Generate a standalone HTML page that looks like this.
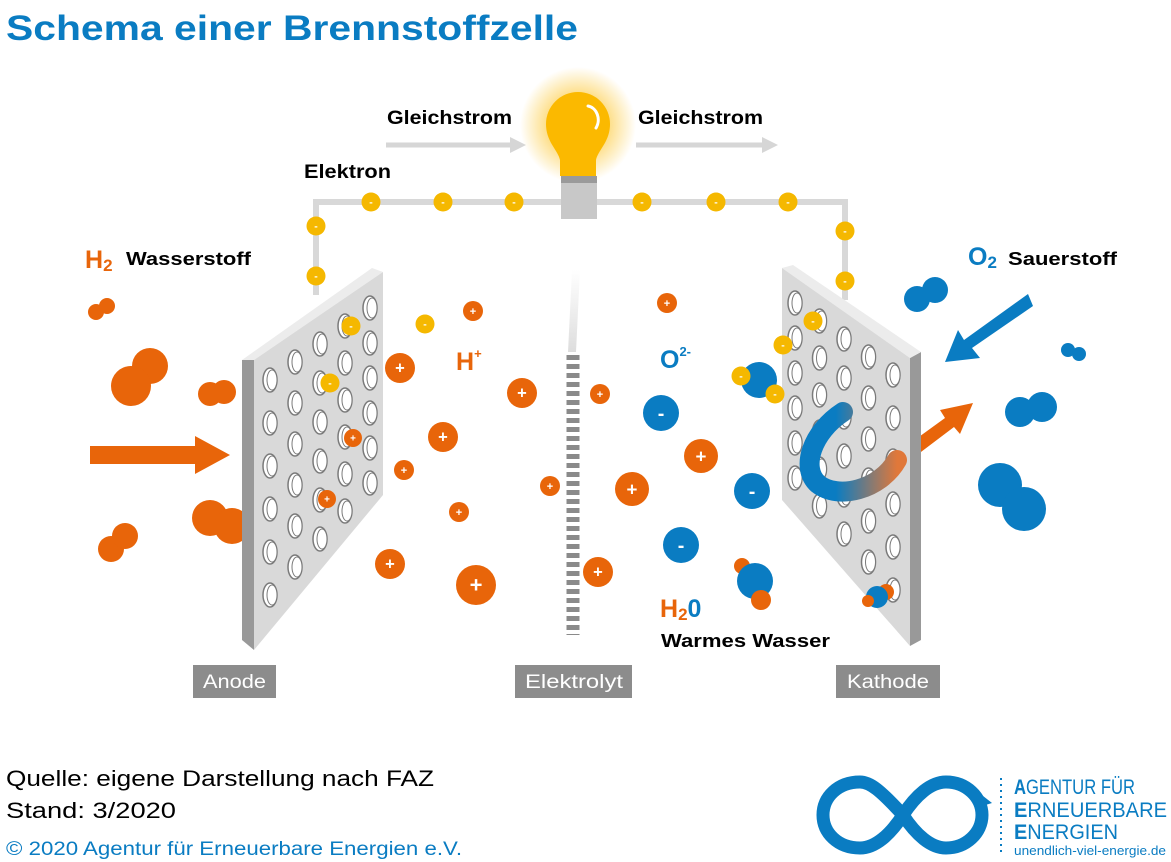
<!DOCTYPE html>
<html><head><meta charset="utf-8"><style>
html,body{margin:0;padding:0;background:#fff;}
svg{display:block;font-family:"Liberation Sans","DejaVu Sans",sans-serif;}
</style></head><body>
<svg width="1171" height="862" viewBox="0 0 1171 862" xmlns="http://www.w3.org/2000/svg">
<defs>
<radialGradient id="glow" cx="0.5" cy="0.5" r="0.5">
<stop offset="0.5" stop-color="#fbb900" stop-opacity="0.5"/>
<stop offset="1" stop-color="#fbb900" stop-opacity="0"/>
</radialGradient>
<linearGradient id="hook" x1="0" y1="0" x2="1" y2="0" gradientUnits="objectBoundingBox">
<stop offset="0.3" stop-color="#0a7cc2"/>
<stop offset="1" stop-color="#e0783a"/>
</linearGradient>
<linearGradient id="fade" x1="0" y1="0" x2="0" y2="1">
<stop offset="0" stop-color="#fff"/>
<stop offset="1" stop-color="#ddd"/>
</linearGradient>
</defs>
<rect width="1171" height="862" fill="#fff"/>
<text x="6" y="40" font-size="35" font-weight="bold" fill="#0a7cc2" textLength="572" lengthAdjust="spacingAndGlyphs">Schema einer Brennstoffzelle</text>

<text x="387" y="124" font-size="19" font-weight="bold" textLength="125" lengthAdjust="spacingAndGlyphs">Gleichstrom</text>
<text x="638" y="124" font-size="19" font-weight="bold" textLength="125" lengthAdjust="spacingAndGlyphs">Gleichstrom</text>
<line x1="386" y1="145" x2="512" y2="145" stroke="#d6d6d6" stroke-width="5"/>
<polygon points="510,137 526,145 510,153" fill="#d6d6d6"/>
<line x1="636" y1="145" x2="764" y2="145" stroke="#d6d6d6" stroke-width="5"/>
<polygon points="762,137 778,145 762,153" fill="#d6d6d6"/>
<text x="304" y="178" font-size="19" font-weight="bold" textLength="87" lengthAdjust="spacingAndGlyphs">Elektron</text>

<polyline points="316,295 316,202 845,202 845,300" fill="none" stroke="#d8d8d8" stroke-width="6"/>

<circle cx="578" cy="125" r="58" fill="url(#glow)"/>
<path d="M546,124 a32,32 0 1 1 64,0 c0,18 -12,26 -14,36 l0,16 h-36 l0,-16 c-2,-10 -14,-18 -14,-36z" fill="#fbb900"/>
<path d="M588,106 a12,14 0 0 1 8,22" fill="none" stroke="#fff" stroke-width="3" stroke-linecap="round"/>
<rect x="561" y="176" width="36" height="7" fill="#9a9a9a"/>
<rect x="561" y="183" width="36" height="36" fill="#c8c8c8"/>

<polygon points="572,270 580,270 576,352 568,352" fill="url(#fade)"/>
<line x1="573" y1="355" x2="573" y2="635" stroke="#8a8a8a" stroke-width="13" stroke-dasharray="5,4"/>

<text x="85" y="268" font-size="25" font-weight="bold" fill="#e8650a">H<tspan font-size="17" dy="3">2</tspan></text>
<text x="126" y="265" font-size="18" font-weight="bold" textLength="125" lengthAdjust="spacingAndGlyphs">Wasserstoff</text>
<text x="968" y="265" font-size="25" font-weight="bold" fill="#0a7cc2">O<tspan font-size="17" dy="3">2</tspan></text>
<text x="1008" y="265" font-size="18" font-weight="bold" textLength="109" lengthAdjust="spacingAndGlyphs">Sauerstoff</text>
<text x="456" y="370" font-size="25" font-weight="bold" fill="#e8650a">H<tspan font-size="13" dy="-12">+</tspan></text>
<text x="660" y="368" font-size="25" font-weight="bold" fill="#0a7cc2">O<tspan font-size="13" dy="-12">2-</tspan></text>
<text x="660" y="617" font-size="25" font-weight="bold" fill="#e8650a">H<tspan font-size="17" dy="3">2</tspan><tspan dy="-3" fill="#0a7cc2">0</tspan></text>
<text x="661" y="647" font-size="18" font-weight="bold" textLength="169" lengthAdjust="spacingAndGlyphs">Warmes Wasser</text>

<g fill="#e8650a">
<circle cx="96" cy="312" r="8"/><circle cx="107" cy="306" r="8"/>
<circle cx="150" cy="366" r="18"/><circle cx="131" cy="386" r="20"/>
<circle cx="210" cy="394" r="12"/><circle cx="224" cy="392" r="12"/>
<circle cx="210" cy="518" r="18"/><circle cx="232" cy="526" r="18"/>
<circle cx="111" cy="549" r="13"/><circle cx="125" cy="536" r="13"/>
<polygon points="90,446 195,446 195,436 230,455 195,474 195,464 90,464"/>
<polygon points="905,447 945,418 940,410 973,403 960,434 954,427 913,458"/>
</g>
<g fill="#0a7cc2">
<circle cx="917" cy="299" r="13"/><circle cx="935" cy="290" r="13"/>
<circle cx="1068" cy="350" r="7"/><circle cx="1079" cy="354" r="7"/>
<circle cx="1020" cy="412" r="15"/><circle cx="1042" cy="407" r="15"/>
<circle cx="1000" cy="485" r="22"/><circle cx="1024" cy="509" r="22"/>
<polygon points="1028,294 1033,306 972,348 980,358 945,362 958,330 964,340"/>
</g>

<polygon points="242,360 254,360 254,650 242,640" fill="#999"/>
<polygon points="242,360 372,268 383,272 254,360" fill="#ececec"/>
<polygon points="254,360 383,272 383,495 254,650" fill="#d9d9d9"/>
<g fill="#fff" stroke="#7a7a7a" stroke-width="1.5" id="ah"></g>

<polygon points="910,358 921,352 921,640 910,646" fill="#999"/>
<polygon points="782,268 793,265 921,352 910,358" fill="#ececec"/>
<polygon points="782,268 910,358 910,646 782,500" fill="#d9d9d9"/>
<g fill="#fff" stroke="#7a7a7a" stroke-width="1.5" id="ch"></g>

<path d="M843,412 C812,432 800,468 818,484 C838,500 880,490 897,460" fill="none" stroke="url(#hook)" stroke-width="20" stroke-linecap="round"/>

<g id="ions"></g>

<rect x="193" y="665" width="83" height="33" fill="#8c8c8c"/>
<text x="203" y="688" font-size="19" fill="#fff" textLength="63" lengthAdjust="spacingAndGlyphs">Anode</text>
<rect x="515" y="665" width="117" height="33" fill="#8c8c8c"/>
<text x="525" y="688" font-size="19" fill="#fff" textLength="98" lengthAdjust="spacingAndGlyphs">Elektrolyt</text>
<rect x="836" y="665" width="104" height="33" fill="#8c8c8c"/>
<text x="847" y="688" font-size="19" fill="#fff" textLength="82" lengthAdjust="spacingAndGlyphs">Kathode</text>

<text x="6" y="786" font-size="22" textLength="428" lengthAdjust="spacingAndGlyphs">Quelle: eigene Darstellung nach FAZ</text>
<text x="6" y="818" font-size="22" textLength="170" lengthAdjust="spacingAndGlyphs">Stand: 3/2020</text>
<text x="6" y="855" font-size="19" fill="#0a7cc2" textLength="456" lengthAdjust="spacingAndGlyphs">© 2020 Agentur für Erneuerbare Energien e.V.</text>

<path d="M903,815 C880,790 870,782 860,782 C838,782 823,797 823,815 C823,833 838,848 860,848 C875,848 890,835 903,815 C916,795 931,782 946,782 C966,782 982,797 982,815 C982,833 966,848 946,848 C931,848 916,835 903,815" fill="none" stroke="#0a7cc2" stroke-width="13"/>
<polygon points="978,792 992,803 976,808" fill="#0a7cc2"/>
<line x1="1001" y1="778" x2="1001" y2="852" stroke="#0a7cc2" stroke-width="2" stroke-dasharray="2,4"/>
<g fill="#0a7cc2" font-size="21">
<text x="1014" y="794" textLength="121" lengthAdjust="spacingAndGlyphs"><tspan font-weight="bold">A</tspan>GENTUR FÜR</text>
<text x="1014" y="817" textLength="153" lengthAdjust="spacingAndGlyphs"><tspan font-weight="bold">E</tspan>RNEUERBARE</text>
<text x="1014" y="839" textLength="104" lengthAdjust="spacingAndGlyphs"><tspan font-weight="bold">E</tspan>NERGIEN</text>
<text x="1014" y="855" font-size="13" textLength="152" lengthAdjust="spacingAndGlyphs">unendlich-viel-energie.de</text>
</g>
</svg>
<script>
var NS="http://www.w3.org/2000/svg";
function el(p,t,a){var e=document.createElementNS(NS,t);for(var k in a)e.setAttribute(k,a[k]);p.appendChild(e);return e;}
var ah=document.getElementById('ah'),ch=document.getElementById('ch');
for(var k=0;k<5;k++){var x=270+25*k,sp=43-2*k,y0=380-18*k;
 for(var i=0;i<6;i++){el(ah,'ellipse',{cx:x,cy:y0+i*sp,rx:7,ry:12});el(ah,'ellipse',{cx:x+2,cy:y0+i*sp,rx:5,ry:10,'stroke-width':1});}}
for(var k=0;k<5;k++){var x=795+24.5*k,sp=35+2*k,y0=303+18*k;
 for(var i=0;i<7;i++){var y=y0+i*sp; if(y>500+k*33)continue; el(ch,'ellipse',{cx:x,cy:y,rx:7,ry:12});el(ch,'ellipse',{cx:x+2,cy:y,rx:5,ry:10,'stroke-width':1});}}
var g=document.getElementById('ions');
function ion(x,y,r,c,s){el(g,'circle',{cx:x,cy:y,r:r,fill:c});var t=el(g,'text',{x:x,y:y+r*0.38,'font-size':r*1.1,'font-weight':'bold',fill:'#fff','text-anchor':'middle'});t.textContent=s;}
[[316,226],[316,276],[371,202],[443,202],[514,202],[642,202],[716,202],[788,202],[845,231],[845,281],[351,326],[425,324],[330,383],[813,321],[783,345]].forEach(function(p){ion(p[0],p[1],9.5,'#f5b800','-');});
[[473,311,10],[667,303,10],[600,394,10],[353,438,9],[404,470,10],[459,512,10],[327,499,9],[550,486,10],[400,368,15],[522,393,15],[443,437,15],[390,564,15],[598,572,15],[632,489,17],[701,456,17],[476,585,20]].forEach(function(p){ion(p[0],p[1],p[2],'#e8650a','+');});
[[661,413],[752,491],[681,545]].forEach(function(p){ion(p[0],p[1],18,'#0a7cc2','-');});
el(g,'circle',{cx:759,cy:380,r:18,fill:'#0a7cc2'});
ion(741,376,9.5,'#f5b800','-');ion(775,394,9.5,'#f5b800','-');
el(g,'circle',{cx:742,cy:566,r:8,fill:'#e8650a'});
el(g,'circle',{cx:755,cy:581,r:18,fill:'#0a7cc2'});
el(g,'circle',{cx:761,cy:600,r:10,fill:'#e8650a'});
el(g,'circle',{cx:886,cy:592,r:8,fill:'#e8650a'});
el(g,'circle',{cx:877,cy:597,r:11,fill:'#0a7cc2'});
el(g,'circle',{cx:868,cy:601,r:6,fill:'#e8650a'});
</script>
</body></html>
